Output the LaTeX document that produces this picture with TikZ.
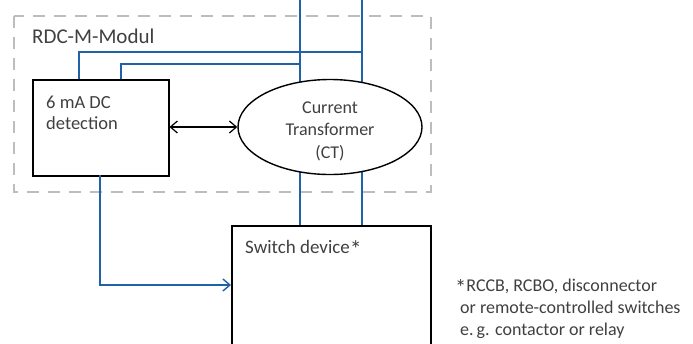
\documentclass[tikz,border=0pt]{standalone}
\usepackage{fontspec}
\setmainfont{Carlito}
\usepackage{xcolor}
\usetikzlibrary{shapes.geometric}
\usetikzlibrary{arrows.meta}
\definecolor{wireblue}{HTML}{1F62A8}
\definecolor{textgray}{HTML}{404040}
\definecolor{framegray}{HTML}{BDBDBD}
\tikzset{>={Straight Barb[length=7pt,width=12pt]}}
\newcommand{\fnmark}{\raisebox{-4.5pt}{\scalebox{1.25}{*}}}

\begin{document}
\begin{tikzpicture}[x=1pt, y=-1pt, text=textgray]
\tikzset{wire/.style={wireblue, line width=1.4pt}}
\tikzset{block/.style={draw=black, line width=1.5pt, rectangle, anchor=north west}}
\tikzset{label/.style={inner sep=0pt, anchor=base west, align=left}}
    \useasboundingbox (0,0) rectangle (693,343);
    \clip (0,0) rectangle (693,343);

    % module frame
    \draw[framegray, line width=1.4pt, dash pattern=on 12pt off 9pt] (14,16) rectangle (431,192);
    \node[label, font=\fontsize{21}{24}\selectfont] (title) at (32,43) {RDC-M-Modul};

    % conductors
    \coordinate (L1) at (300,0);
    \coordinate (L2) at (362,0);
    \coordinate (tapA) at (79,79);
    \coordinate (tapB) at (121,79);
    \coordinate (outD) at (100,175);
    \coordinate (inS) at (231,285);

    \draw[wire] (L1) -- (300,225);
    \draw[wire] (L2) -- (362,225);
    \draw[wire] (tapA) -- ++(0,-27) -| (L2);
    \draw[wire] (tapB) -- ++(0,-15) -| (L1);

    % blocks
    \node[block, fill=white, minimum width=136pt, minimum height=96pt] (det) at (32,79) {};
    \node[label, font=\fontsize{18.5}{21}\selectfont] (dettext) at (46,129) {6 mA DC\\detection};

    \node[draw=black, fill=white, line width=1.4pt, ellipse, minimum width=184pt, minimum height=95pt] (ct) at (330,127) {};
    \node[label, anchor=base, align=center, font=\fontsize{18}{22.5}\selectfont] (cttext) at (ct.center |- 0,158) {Current\\Transformer\\(CT)};

    \node[block, fill=white, minimum width=199pt, minimum height=150pt] (sw) at (231,225) {};
    \node[label, font=\fontsize{19}{22}\selectfont] (swtext) at (245,253) {Switch device\fnmark};

    \draw[wire, ->] (outD) |- (inS);
	\draw[<->, line width=1.2pt] (det.east |- ct.west) -- (ct.west);

    % footnote
    \node[label, font=\fontsize{18}{22}\selectfont] (note) at (455,335)
        {\fnmark RCCB, RCBO, disconnector\\\hspace{5pt}or remote-controlled switches\\\hspace{5pt}e.\,g. contactor or relay};
\end{tikzpicture}
\end{document}
